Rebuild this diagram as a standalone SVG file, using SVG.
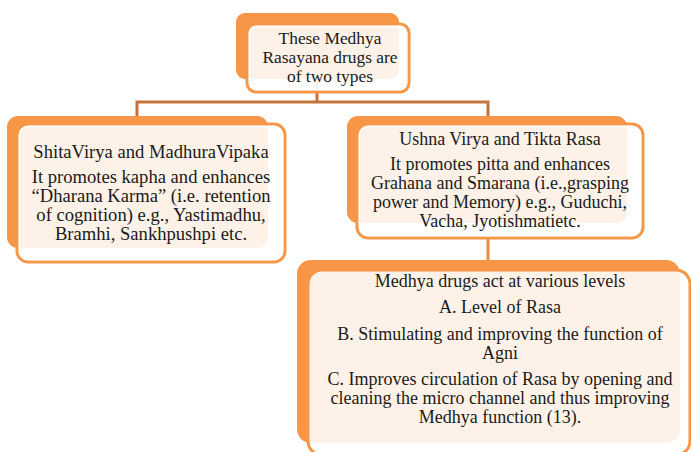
<svg xmlns="http://www.w3.org/2000/svg" width="691" height="452" viewBox="0 0 691 452">
<style>
.back{fill:#F79646;}
.front{fill:#FFFFFF;fill-opacity:0.88;stroke:#F79646;stroke-width:3;}
.inner{fill:none;stroke:#FFFFFF;stroke-width:1.5;}
.conn{fill:none;stroke:#C4743A;stroke-width:3;}
.conn2{fill:none;stroke:#E98D47;stroke-width:3;}
.t{font-size:18px;fill:#1a1a1a;text-anchor:middle;}
.tt{font-size:17.4px;fill:#1a1a1a;text-anchor:middle;}
.tl{font-size:18.6px;fill:#1a1a1a;text-anchor:middle;}
</style>
<rect width="691" height="452" fill="#FFFFFF"/>
<g id="connectors">
<path class="conn" d="M317 82 V102 M137 116 V102 H488 V116"/>
<path class="conn2" d="M488 236 V260"/>
</g>
<g font-family="Liberation Serif, serif">
<g id="node-top">
<rect class="back" x="236" y="13" width="163" height="66" rx="9"/>
<rect class="front" x="247" y="24" width="162" height="68" rx="9"/>
<rect class="inner" x="249.5" y="26.5" width="157" height="63" rx="7"/>
<text class="tt" x="330" y="44">These Medhya</text>
<text class="tt" x="330" y="63">Rasayana drugs are</text>
<text class="tt" x="330" y="82">of two types</text>
</g>
<g id="node-left">
<rect class="back" x="7" y="116" width="261" height="132" rx="11"/>
<rect class="front" x="17" y="124" width="268" height="138" rx="11"/>
<rect class="inner" x="19.5" y="126.5" width="263" height="133" rx="9"/>
<text class="tl" x="151" y="158">ShitaVirya and MadhuraVipaka</text>
<text class="tl" x="151" y="183">It promotes kapha and enhances</text>
<text class="tl" x="151" y="202">“Dharana Karma” (i.e. retention</text>
<text class="tl" x="151" y="221">of cognition) e.g., Yastimadhu,</text>
<text class="tl" x="151" y="240">Bramhi, Sankhpushpi etc.</text>
</g>
<g id="node-right">
<rect class="back" x="347" y="116" width="280" height="107" rx="11"/>
<rect class="front" x="357" y="124" width="286" height="114" rx="11"/>
<rect class="inner" x="359.5" y="126.5" width="281" height="109" rx="9"/>
<text class="t" x="500" y="145">Ushna Virya and Tikta Rasa</text>
<text class="t" x="500" y="170">It promotes pitta and enhances</text>
<text class="t" x="500" y="189">Grahana and Smarana (i.e.,grasping</text>
<text class="t" x="500" y="208">power and Memory) e.g., Guduchi,</text>
<text class="t" x="500" y="227">Vacha, Jyotishmatietc.</text>
</g>
<g id="node-bottom">
<rect class="back" x="297" y="260" width="383" height="183" rx="14"/>
<rect class="front" x="308" y="270" width="382" height="185" rx="14"/>
<text class="t" x="500" y="287">Medhya drugs act at various levels</text>
<text class="t" x="500" y="313">A. Level of Rasa</text>
<text class="t" x="500" y="340">B. Stimulating and improving the function of</text>
<text class="t" x="500" y="359">Agni</text>
<text class="t" x="500" y="385">C. Improves circulation of Rasa by opening and</text>
<text class="t" x="500" y="404">cleaning the micro channel and thus improving</text>
<text class="t" x="500" y="423">Medhya function (13).</text>
</g>
</g>
</svg>
